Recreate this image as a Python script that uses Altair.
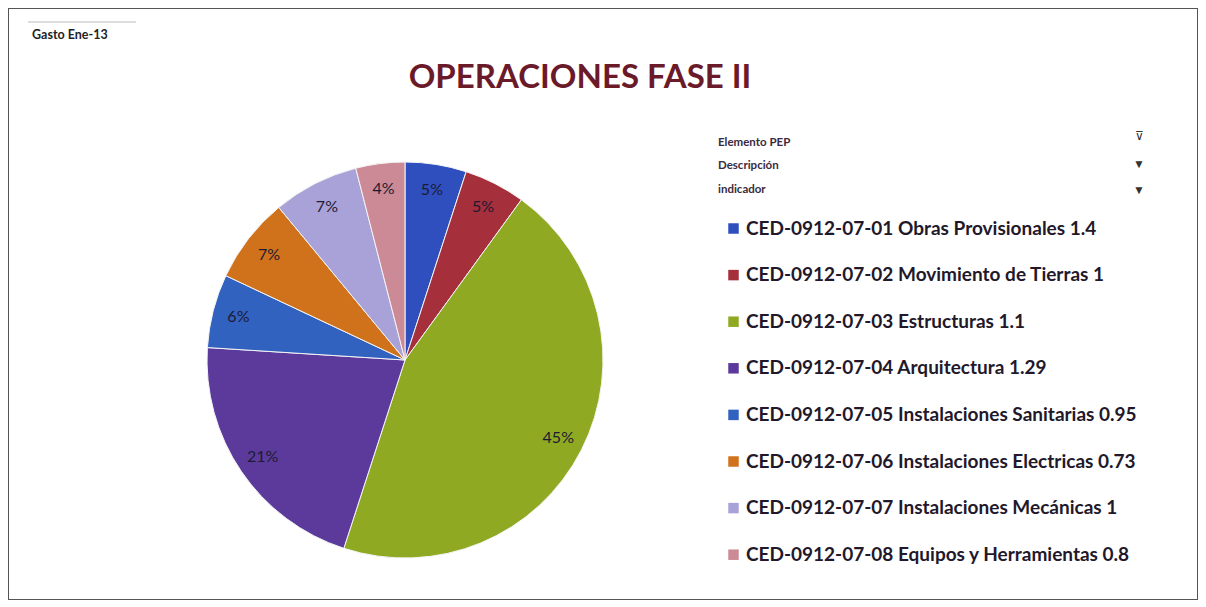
import altair as alt
import pandas as pd

# ---- data ----
codes = ["CED-0912-07-01", "CED-0912-07-02", "CED-0912-07-03", "CED-0912-07-04",
         "CED-0912-07-05", "CED-0912-07-06", "CED-0912-07-07", "CED-0912-07-08"]
names = ["Obras Provisionales", "Movimiento de Tierras", "Estructuras", "Arquitectura",
         "Instalaciones Sanitarias", "Instalaciones Electricas", "Instalaciones Mecánicas",
         "Equipos y Herramientas"]
indicators = ["1.4", "1", "1.1", "1.29", "0.95", "0.73", "1", "0.8"]
percents = [5, 5, 45, 21, 6, 7, 7, 4]
colors = ["#2F4FBE", "#A52F3A", "#8FAA22", "#5B3A9C", "#3262C0", "#D0721C", "#A9A2D8", "#CC8A96"]

title_text = "OPERACIONES FASE II"
corner_text = "Gasto Ene-13"
header_texts = ["Elemento PEP", "Descripción", "indicador"]

labels = [f"{c} {n} {v}" for c, n, v in zip(codes, names, indicators)]
df = pd.DataFrame({
    "item": labels,
    "value": percents,
    "pct": [f"{p}%" for p in percents],
    "order": list(range(len(labels))),
})

W, H = 1190, 592
CX, CY, R = 397, 352, 198

color_scale = alt.Scale(domain=labels, range=colors)

pie = alt.Chart(df).mark_arc(outerRadius=R, stroke="#f4f4f4", strokeWidth=1).encode(
    theta=alt.Theta("value:Q", stack=True),
    color=alt.Color("item:N", scale=color_scale, sort=labels,
                    legend=alt.Legend(title=None, orient="none", legendX=716, legendY=211,
                                      symbolType="square", symbolSize=110,
                                      labelFont="Lato", labelFontSize=19,
                                      labelFontWeight="bold", labelColor="#22182a",
                                      labelLimit=600, rowPadding=26.6, labelOffset=3,
                                      padding=0, symbolStrokeWidth=0)),
    order=alt.Order("order:Q"),
    x=alt.value(CX), y=alt.value(CY),
)

pct_text = alt.Chart(df).mark_text(radius=172, font="Lato", fontSize=16,
                                   color="#1e1a33").encode(
    theta=alt.Theta("value:Q", stack=True),
    text="pct:N",
    order=alt.Order("order:Q"),
    x=alt.value(CX), y=alt.value(CY),
)

title = alt.Chart(pd.DataFrame({"t": [title_text]})).mark_text(
    font="Lato", fontSize=33, fontWeight="bold", color="#6B1A2A", align="center", baseline="middle"
).encode(text="t:N", x=alt.value(572), y=alt.value(70))

corner = alt.Chart(pd.DataFrame({"t": [corner_text]})).mark_text(
    font="Lato", fontSize=12.5, fontWeight="bold", color="#222222", align="left", baseline="middle"
).encode(text="t:N", x=alt.value(24), y=alt.value(27))

corner_line = alt.Chart(pd.DataFrame({"a": [0]})).mark_rule(color="#bbbbbb", strokeWidth=1).encode(
    x=alt.value(20), x2=alt.value(128), y=alt.value(14))

hdr = pd.DataFrame({"t": header_texts, "y": [135, 158, 182]})
headers = alt.Chart(hdr).mark_text(
    font="Lato", fontSize=11.5, fontWeight="bold", color="#3a2a40", align="left", baseline="middle"
).encode(text="t:N", x=alt.value(710),
         y=alt.Y("y:Q", scale=alt.Scale(domain=[0, H], range=[0, H]), axis=None))

icons = pd.DataFrame({"t": ["⊽", "▼", "▼"], "y": [128, 156, 182]})
icon_marks = alt.Chart(icons).mark_text(
    fontSize=12, color="#333333", align="center", baseline="middle"
).encode(text="t:N", x=alt.value(1131),
         y=alt.Y("y:Q", scale=alt.Scale(domain=[0, H], range=[0, H]), axis=None))

chart = alt.layer(pie, pct_text, title, corner, corner_line, headers, icon_marks).properties(
    width=W, height=H, autosize=alt.AutoSizeParams(type="none"), padding=0,
    background="white"
).configure_view(stroke="#555555", strokeWidth=2)

chart.save("out.html", embed_options={"renderer": "svg", "actions": False})
